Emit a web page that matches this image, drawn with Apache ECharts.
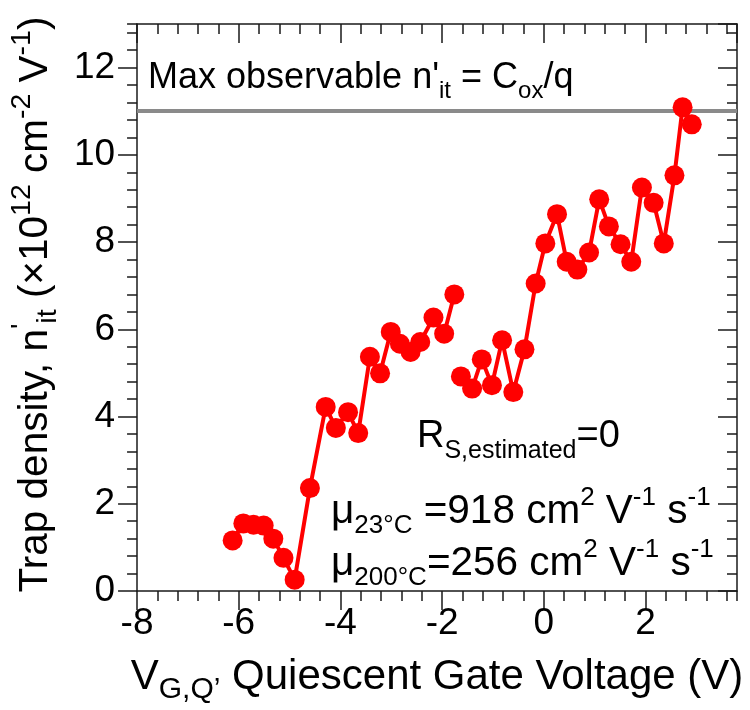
<!DOCTYPE html>
<html><head><meta charset="utf-8">
<script src="https://cdn.jsdelivr.net/npm/echarts@6/dist/echarts.min.js"></script>
<style>html,body{margin:0;padding:0;background:#fff}#c{width:750px;height:710px}</style>
</head><body><div id="c"></div>
<script>
// ---- data ----
const segA_x = [-6.12,-5.91,-5.71,-5.51,-5.32,-5.12,-4.90,-4.60,-4.29,-4.09,-3.85,-3.65,-3.42,-3.22,-3.01,-2.83,-2.62,-2.43,-2.17,-1.96,-1.76];
const segA_y = [1.16,1.55,1.52,1.50,1.20,0.76,0.26,2.36,4.22,3.74,4.10,3.62,5.37,4.99,5.94,5.67,5.48,5.71,6.27,5.90,6.80];
const segB_x = [-1.63,-1.41,-1.22,-1.02,-0.82,-0.60,-0.38,-0.16,0.03,0.26,0.45,0.66,0.89,1.09,1.28,1.51,1.72,1.93,2.16,2.36,2.57,2.73,2.91];
const segB_y = [4.92,4.64,5.31,4.72,5.75,4.56,5.54,7.05,7.97,8.64,7.55,7.37,7.76,8.98,8.36,7.95,7.55,9.25,8.90,7.97,9.53,11.09,10.70];
const maxObservable = 11;
const xTickLabels = ['-8','-6','-4','-2','0','2'];
const yTickLabels = ['0','2','4','6','8','10','12'];

const FF = "'Liberation Sans', Arial, sans-serif";
function mkRich(main, small, sh) {
  return {
    n: {fontSize: main, fontFamily: FF, color: '#000'},
    b: {fontSize: small, fontFamily: FF, color: '#000', padding: [sh, 0, 0, 0]},
    p: {fontSize: small, fontFamily: FF, color: '#000', padding: [0, 0, sh, 0]}
  };
}
const richX = mkRich(42, 30, 26);
const richY = mkRich(40.5, 28.5, 26);
const richMax = mkRich(36, 24, 26);
const richR = mkRich(38, 25, 28);
const richMu = mkRich(40.5, 26, 28);
const pairs = (xs, ys) => xs.map((x, i) => [x, ys[i]]);

const axisLineStyle = {color: '#1a1a1a', width: 1.5};
function xAx(pos, interval, len, inside, labels, showLine, extra) {
  return Object.assign({
    type: 'value', position: pos, min: -8, max: 3.8, interval: interval,
    axisLine: {show: showLine, onZero: false, lineStyle: axisLineStyle},
    axisTick: {show: true, length: len, inside: inside, lineStyle: axisLineStyle},
    axisLabel: {show: labels, showMaxLabel: false, margin: 14, fontSize: 37, fontFamily: FF, color: '#000',
      formatter: v => { const i = Math.round((v + 8) / 2); return xTickLabels[i] || ''; }},
    splitLine: {show: false}
  }, extra || {});
}
function yAx(pos, interval, len, inside, labels, showLine, extra) {
  return Object.assign({
    type: 'value', position: pos, min: 0, max: 13, interval: interval,
    axisLine: {show: showLine, onZero: false, lineStyle: axisLineStyle},
    axisTick: {show: true, length: len, inside: inside, lineStyle: axisLineStyle},
    axisLabel: {show: labels, showMaxLabel: false, margin: 22, fontSize: 37, fontFamily: FF, color: '#000',
      formatter: v => { const i = Math.round(v / 2); return yTickLabels[i] || ''; }},
    splitLine: {show: false}
  }, extra || {});
}

const chart = echarts.init(document.getElementById('c'), null, {renderer: 'canvas'});
const seriesStyle = {
  type: 'line', xAxisIndex: 0, yAxisIndex: 0, symbol: 'circle', symbolSize: 20,
  lineStyle: {color: '#ff0000', width: 4}, itemStyle: {color: '#ff0000'},
  z: 5, animation: false
};
chart.setOption({
  animation: false,
  backgroundColor: '#fff',
  grid: {left: 136, right: 13, top: 24, bottom: 119, containLabel: false},
  xAxis: [
    xAx('bottom', 2, 19, false, true, true, {
      name: '{n|V}{b|G,Q’}{n| Quiescent Gate Voltage (V)}',
      nameLocation: 'middle', nameGap: 58,
      nameTextStyle: {rich: richX, fontSize: 42, fontFamily: FF, color: '#000'}
    }),
    xAx('bottom', 0.4, 10, false, false, false),
    xAx('top', 2, 19, true, false, true),
    xAx('top', 0.4, 10, true, false, false)
  ],
  yAxis: [
    yAx('left', 2, 19, false, true, true, {
      name: '{n|Trap density, n}{p|\'}{b|it}{n| (×10}{p|12}{n| cm}{p|-2}{n| V}{p|-1}{n|)}',
      nameLocation: 'middle', nameGap: 68, nameRotate: 90,
      nameTextStyle: {rich: richY, fontSize: 40.5, fontFamily: FF, color: '#000', padding: [0, 0, 0, 6]}
    }),
    yAx('left', 0.4, 10, false, false, false),
    yAx('right', 2, 19, true, false, true),
    yAx('right', 0.4, 10, true, false, false)
  ],
  series: [
    Object.assign({}, seriesStyle, {name: 'A', data: pairs(segA_x, segA_y),
      markLine: {silent: true, symbol: ['none', 'none'], label: {show: false},
        lineStyle: {color: '#8a8a8a', width: 4, type: 'solid'},
        data: [{yAxis: maxObservable}], z: 1}}),
    Object.assign({}, seriesStyle, {name: 'B', data: pairs(segB_x, segB_y)})
  ],
  graphic: [
    {type: 'text', x: 148, y: 78, z: 10, style: {text: '{n|Max observable n\'}{b|it}{n| = C}{b|ox}{n|/q}', rich: richMax, align: 'left', verticalAlign: 'middle'}},
    {type: 'text', x: 417, y: 437, z: 10, style: {text: '{n|R}{b|S,estimated}{n|=0}', rich: richR, align: 'left', verticalAlign: 'middle'}},
    {type: 'text', x: 331, y: 512, z: 10, style: {text: '{n|μ}{b|23°C}{n| =918 cm}{p|2}{n| V}{p|-1}{n| s}{p|-1}', rich: richMu, align: 'left', verticalAlign: 'middle'}},
    {type: 'text', x: 331, y: 564, z: 10, style: {text: '{n|μ}{b|200°C}{n|=256 cm}{p|2}{n| V}{p|-1}{n| s}{p|-1}', rich: richMu, align: 'left', verticalAlign: 'middle'}}
  ]
});
</script>
</body></html>
